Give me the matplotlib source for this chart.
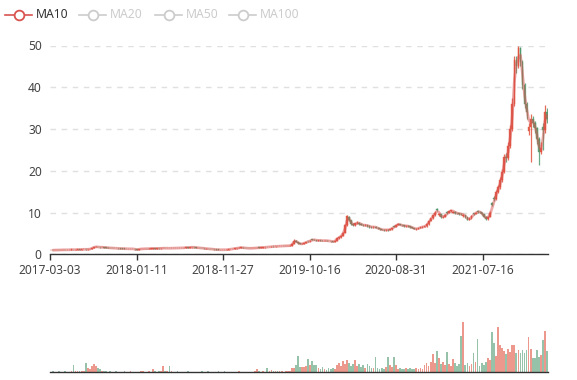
import numpy as np
import pandas as pd
import matplotlib
matplotlib.use('Agg')
import matplotlib.pyplot as plt
from matplotlib.lines import Line2D

plt.rcParams['font.family'] = ['Noto Sans', 'DejaVu Sans']
plt.rcParams['lines.scale_dashes'] = False

# ---------------- data (one candle ~ 5 trading days) ----------------
tick_labels = ['2017-03-03', '2018-01-11', '2018-11-27', '2019-10-16', '2020-08-31', '2021-07-16']
days_per_candle = 5
label_every_days = 212

open_ = [
    0.97, 1.01, 0.99, 1.02, 1.05, 1.03, 1.06, 1.08, 1.05, 1.08,
    1.10, 1.12, 1.08, 1.14, 1.16, 1.13, 1.18, 1.20, 1.15, 1.22,
    1.25, 1.55, 1.76, 1.80, 1.72, 1.66, 1.70, 1.62, 1.60, 1.55,
    1.52, 1.48, 1.45, 1.42, 1.40, 1.38, 1.36, 1.34, 1.30, 1.28,
    1.32, 1.30, 1.15, 1.12, 1.25, 1.30, 1.32, 1.35, 1.33, 1.36,
    1.38, 1.40, 1.38, 1.42, 1.40, 1.44, 1.48, 1.45, 1.46, 1.42,
    1.50, 1.48, 1.52, 1.50, 1.55, 1.52, 1.58, 1.62, 1.60, 1.66,
    1.70, 1.65, 1.53, 1.55, 1.50, 1.45, 1.33, 1.35, 1.30, 1.25,
    1.20, 1.15, 1.12, 1.10, 1.08, 1.10, 1.08, 1.12, 1.18, 1.25,
    1.32, 1.40, 1.48, 1.58, 1.62, 1.55, 1.50, 1.45, 1.42, 1.45,
    1.50, 1.52, 1.60, 1.58, 1.62, 1.65, 1.78, 1.75, 1.80, 1.90,
    1.88, 1.95, 1.92, 1.95, 2.02, 2.00, 2.02, 2.05, 2.10, 2.50,
    3.30, 3.00, 2.60, 2.45, 2.55, 2.75, 3.20, 3.10, 3.60, 3.50,
    3.45, 3.30, 3.35, 3.30, 3.25, 3.30, 3.25, 3.20, 3.10, 3.00,
    3.30, 3.80, 4.10, 4.50, 5.20, 6.90, 9.00, 8.10, 7.30, 6.90,
    7.40, 7.60, 7.30, 7.10, 6.90, 7.00, 6.80, 6.60, 6.50, 6.60,
    6.40, 6.20, 6.00, 5.90, 5.80, 5.90, 5.80, 6.00, 6.75, 6.60,
    7.00, 7.20, 7.00, 6.90, 6.75, 6.80, 6.70, 6.50, 6.30, 6.05,
    6.10, 6.30, 6.50, 6.60, 6.70, 7.20, 8.00, 8.60, 9.30, 10.9,
    9.30, 9.60, 8.90, 9.00, 10.1, 9.90, 10.3, 9.95, 10.2, 9.90,
    9.80, 9.70, 9.10, 9.40, 8.90, 8.30, 8.60, 9.90, 9.70, 10.4,
    10.2, 10.1, 9.60, 9.00, 8.50, 9.00, 12.3, 13.6, 13.2, 15.0,
    16.0, 17.8, 19.8, 23.4, 23.0, 26.0, 30.0, 36.0, 46.5, 45.0,
    49.4, 46.0, 40.5, 36.0, 29.5, 30.5, 32.5, 31.5, 30.2, 27.5,
    24.5, 30.5, 29.7, 34.0,
]
close = [
    1.00, 0.98, 1.02, 1.05, 1.03, 1.06, 1.08, 1.05, 1.09, 1.10,
    1.12, 1.08, 1.14, 1.16, 1.13, 1.18, 1.20, 1.15, 1.22, 1.25,
    1.55, 1.78, 1.80, 1.72, 1.68, 1.70, 1.62, 1.60, 1.55, 1.52,
    1.48, 1.45, 1.42, 1.40, 1.38, 1.36, 1.34, 1.30, 1.28, 1.32,
    1.30, 1.15, 1.12, 1.25, 1.30, 1.32, 1.35, 1.33, 1.36, 1.38,
    1.40, 1.38, 1.42, 1.40, 1.44, 1.48, 1.45, 1.46, 1.42, 1.50,
    1.48, 1.52, 1.50, 1.55, 1.52, 1.58, 1.62, 1.60, 1.66, 1.70,
    1.65, 1.60, 1.55, 1.50, 1.45, 1.40, 1.35, 1.30, 1.25, 1.20,
    1.15, 1.12, 1.10, 1.08, 1.10, 1.08, 1.12, 1.18, 1.25, 1.32,
    1.40, 1.48, 1.58, 1.62, 1.55, 1.50, 1.45, 1.42, 1.45, 1.50,
    1.52, 1.55, 1.58, 1.62, 1.65, 1.70, 1.75, 1.80, 1.85, 1.88,
    1.90, 1.92, 1.95, 1.98, 2.00, 2.02, 2.05, 2.10, 2.50, 3.30,
    3.00, 2.60, 2.45, 2.55, 2.75, 2.95, 3.10, 3.30, 3.50, 3.45,
    3.30, 3.35, 3.30, 3.25, 3.30, 3.25, 3.20, 3.10, 3.00, 3.30,
    3.80, 4.10, 4.50, 5.20, 6.90, 9.10, 8.10, 7.30, 6.90, 7.40,
    7.60, 7.30, 7.10, 6.90, 7.00, 6.80, 6.60, 6.50, 6.60, 6.40,
    6.20, 6.00, 5.90, 5.80, 5.90, 5.80, 6.00, 6.30, 6.60, 7.00,
    7.20, 7.00, 6.90, 6.80, 6.80, 6.70, 6.50, 6.30, 6.10, 6.10,
    6.30, 6.50, 6.60, 6.70, 7.20, 8.00, 8.60, 9.30, 10.0, 10.6,
    9.60, 8.90, 9.00, 9.40, 9.90, 10.3, 10.5, 10.2, 9.90, 9.80,
    9.70, 9.60, 9.40, 8.90, 8.30, 8.60, 9.10, 9.70, 10.0, 10.2,
    10.1, 9.60, 9.00, 8.50, 9.00, 10.0, 11.8, 13.2, 15.0, 16.0,
    17.8, 19.8, 23.4, 23.0, 26.0, 30.0, 36.0, 46.5, 45.0, 49.4,
    46.0, 40.5, 36.0, 34.0, 30.5, 32.5, 31.5, 30.2, 27.5, 24.5,
    25.5, 29.7, 34.0, 32.5,
]
high = [
    1.02, 1.03, 1.04, 1.07, 1.07, 1.08, 1.10, 1.10, 1.11, 1.12,
    1.15, 1.14, 1.16, 1.19, 1.18, 1.21, 1.23, 1.22, 1.25, 1.28,
    1.62, 1.85, 1.90, 1.84, 1.76, 1.75, 1.73, 1.66, 1.63, 1.58,
    1.55, 1.51, 1.48, 1.46, 1.44, 1.42, 1.40, 1.37, 1.34, 1.35,
    1.35, 1.32, 1.18, 1.28, 1.34, 1.35, 1.38, 1.38, 1.39, 1.41,
    1.43, 1.43, 1.45, 1.45, 1.47, 1.52, 1.50, 1.50, 1.49, 1.54,
    1.53, 1.55, 1.55, 1.58, 1.58, 1.61, 1.66, 1.66, 1.70, 1.76,
    1.74, 1.68, 1.60, 1.58, 1.53, 1.48, 1.42, 1.38, 1.33, 1.28,
    1.23, 1.18, 1.15, 1.13, 1.12, 1.13, 1.15, 1.21, 1.28, 1.36,
    1.44, 1.52, 1.63, 1.68, 1.65, 1.58, 1.54, 1.49, 1.49, 1.54,
    1.56, 1.58, 1.63, 1.65, 1.68, 1.74, 1.82, 1.83, 1.88, 1.93,
    1.93, 1.98, 1.98, 2.01, 2.05, 2.06, 2.09, 2.14, 2.60, 3.60,
    3.40, 3.05, 2.70, 2.62, 2.80, 3.00, 3.25, 3.38, 3.65, 3.58,
    3.50, 3.42, 3.40, 3.35, 3.36, 3.34, 3.30, 3.25, 3.15, 3.36,
    3.90, 4.20, 4.65, 5.40, 7.20, 9.40, 9.20, 8.30, 7.50, 7.60,
    7.90, 7.70, 7.40, 7.20, 7.20, 7.10, 6.90, 6.70, 6.80, 6.70,
    6.50, 6.30, 6.10, 6.00, 6.05, 6.00, 6.10, 6.40, 6.85, 7.10,
    7.40, 7.30, 7.10, 7.00, 6.95, 6.90, 6.80, 6.60, 6.40, 6.20,
    6.40, 6.60, 6.70, 6.80, 7.40, 8.20, 8.80, 9.50, 10.3, 11.0,
    9.80, 9.70, 9.20, 9.60, 10.3, 10.4, 10.7, 10.4, 10.3, 10.0,
    9.90, 9.80, 9.60, 9.50, 9.00, 8.80, 9.30, 10.0, 10.1, 10.6,
    10.4, 10.2, 9.70, 9.10, 9.20, 10.3, 12.6, 14.0, 15.4, 16.6,
    18.5, 20.5, 24.0, 24.2, 26.8, 31.0, 37.5, 47.5, 47.5, 49.8,
    49.6, 46.5, 41.0, 36.5, 31.5, 33.5, 33.2, 32.0, 30.5, 28.0,
    27.0, 31.5, 35.8, 35.0,
]
low = [
    0.95, 0.96, 0.97, 1.00, 1.01, 1.01, 1.04, 1.03, 1.03, 1.06,
    1.08, 1.05, 1.06, 1.12, 1.10, 1.11, 1.16, 1.12, 1.13, 1.20,
    1.23, 1.50, 1.70, 1.68, 1.62, 1.63, 1.58, 1.56, 1.52, 1.48,
    1.44, 1.42, 1.39, 1.37, 1.35, 1.33, 1.31, 1.27, 1.24, 1.25,
    1.27, 1.12, 1.08, 1.10, 1.22, 1.28, 1.30, 1.30, 1.31, 1.34,
    1.36, 1.35, 1.36, 1.37, 1.38, 1.42, 1.42, 1.42, 1.39, 1.40,
    1.45, 1.45, 1.47, 1.47, 1.49, 1.50, 1.55, 1.56, 1.57, 1.62,
    1.60, 1.56, 1.50, 1.46, 1.42, 1.36, 1.30, 1.26, 1.22, 1.16,
    1.12, 1.09, 1.07, 1.05, 1.05, 1.05, 1.06, 1.10, 1.16, 1.22,
    1.30, 1.37, 1.45, 1.54, 1.52, 1.47, 1.42, 1.39, 1.39, 1.42,
    1.47, 1.49, 1.55, 1.56, 1.59, 1.62, 1.72, 1.72, 1.77, 1.84,
    1.85, 1.88, 1.89, 1.92, 1.97, 1.97, 1.99, 2.02, 2.06, 2.45,
    2.90, 2.55, 2.40, 2.40, 2.50, 2.70, 3.05, 3.05, 3.42, 3.40,
    3.25, 3.25, 3.26, 3.20, 3.20, 3.20, 3.15, 3.05, 2.95, 2.96,
    3.25, 3.70, 4.00, 4.40, 5.10, 6.80, 7.90, 7.10, 6.70, 6.80,
    7.20, 7.10, 6.90, 6.70, 6.70, 6.60, 6.40, 6.30, 6.30, 6.20,
    6.10, 5.90, 5.70, 5.60, 5.65, 5.60, 5.70, 5.90, 6.50, 6.50,
    6.90, 6.90, 6.80, 6.60, 6.60, 6.60, 6.40, 6.20, 6.00, 5.90,
    6.00, 6.20, 6.40, 6.50, 6.60, 7.10, 7.90, 8.50, 9.20, 10.3,
    9.10, 8.70, 8.70, 8.90, 9.70, 9.80, 10.1, 9.80, 9.70, 9.60,
    9.50, 9.40, 9.00, 8.80, 8.10, 8.10, 8.50, 9.50, 9.60, 10.0,
    9.90, 9.50, 8.90, 8.30, 8.30, 8.90, 11.5, 12.8, 13.0, 14.6,
    15.6, 17.4, 19.5, 22.0, 22.6, 25.5, 29.5, 35.5, 43.5, 44.5,
    45.0, 39.5, 35.0, 32.5, 28.5, 22.2, 30.5, 29.0, 26.5, 21.3,
    24.0, 25.0, 29.0, 31.5,
]
volume = [
    1, 2, 1, 1, 2, 1, 1, 2, 1, 1,
    2, 15, 2, 2, 2, 3, 3, 19, 8, 6,
    12, 16, 12, 8, 7, 3, 2, 2, 1, 2,
    1, 1, 2, 1, 1, 1, 2, 1, 1, 2,
    1, 1, 1, 1, 3, 2, 1, 1, 2, 1,
    6, 2, 1, 2, 2, 13, 3, 3, 13, 2,
    1, 1, 2, 1, 1, 1, 1, 2, 1, 1,
    1, 1, 1, 1, 2, 1, 1, 2, 1, 1,
    1, 1, 2, 1, 1, 2, 1, 1, 1, 1,
    1, 1, 2, 1, 1, 1, 1, 1, 1, 1,
    2, 7, 2, 1, 2, 1, 9, 3, 5, 2,
    2, 2, 2, 2, 1, 2, 2, 3, 9, 9,
    15, 33, 11, 11, 10, 12, 27, 15, 23, 15,
    15, 9, 6, 10, 7, 5, 8, 6, 9, 7,
    14, 18, 12, 22, 17, 24, 19, 13, 16, 25,
    13, 17, 10, 14, 9, 16, 12, 9, 8, 30,
    8, 6, 9, 7, 10, 31, 15, 11, 30, 14,
    7, 8, 6, 7, 9, 6, 8, 7, 6, 8,
    7, 9, 6, 14, 18, 12, 20, 36, 18, 43,
    28, 16, 21, 14, 40, 17, 12, 27, 19, 13,
    16, 72, 100, 14, 19, 12, 17, 38, 21, 67,
    13, 18, 15, 20, 28, 24, 81, 58, 32, 90,
    55, 48, 42, 36, 47, 40, 55, 54, 38, 44,
    38, 45, 38, 45, 70, 47, 28, 28, 45, 30,
    35, 65, 82, 42,
]
ma_names = ['MA10', 'MA20', 'MA50', 'MA100']
ma_days = [10, 20, 50, 100]
ma_shown = [True, False, False, False]

# ---------------- styling ----------------
RED = '#e2533f'
GREEN = '#4f9a6e'
MA_COLOR = '#d9534f'
AXIS_C = '#333333'
LABEL_C = '#444444'
GRID_C = '#e0e0e0'

W, H = 577, 380
fig = plt.figure(figsize=(W / 100, H / 100), dpi=100)


def px_axes(x0, y0, x1, y1):
    return fig.add_axes([x0 / W, 1 - y1 / H, (x1 - x0) / W, (y1 - y0) / H])


ax = px_axes(50, 45.5, 548, 254.3)
axv = px_axes(50, 300, 548, 372.3)

o = np.array(open_)
c = np.array(close)
h = np.array(high)
lo = np.array(low)
v = np.array(volume)
n = len(c)
x = np.arange(n)
up = c >= o
cols = np.where(up, RED, GREEN)

# candles
ax.vlines(x, lo, h, colors=cols, lw=0.9, alpha=0.85, zorder=3)
body_bottom = np.minimum(o, c)
body_h = np.maximum(np.abs(c - o), 0.05)
ax.bar(x, body_h, bottom=body_bottom, width=0.8, color=cols, edgecolor=cols,
       linewidth=0.3, alpha=0.9, zorder=3)

# moving average (shown series only)
for name, days, shown in zip(ma_names, ma_days, ma_shown):
    if shown:
        win = max(1, int(round(days / days_per_candle)))
        ma = pd.Series(c).rolling(win).mean()
        ax.plot(x, ma, color=MA_COLOR, lw=2.0, alpha=0.5, zorder=4,
                solid_capstyle='round', solid_joinstyle='round')

ax.set_xlim(-0.5, n - 0.5)
ax.set_ylim(0, 50)
ax.set_yticks([0, 10, 20, 30, 40, 50])
ax.grid(axis='y', color=GRID_C, lw=1.0, linestyle=(0, (4, 4)), zorder=0)
ax.set_axisbelow(True)
for s in ['top', 'right', 'left']:
    ax.spines[s].set_visible(False)
ax.spines['bottom'].set_color(AXIS_C)
ax.spines['bottom'].set_linewidth(1.0)

step = label_every_days / days_per_candle
tick_pos = [-0.5 + k * step for k in range(len(tick_labels))]
ax.set_xticks(tick_pos)
ax.set_xticklabels(tick_labels)
ax.tick_params(axis='x', length=4, width=1, color=AXIS_C, labelcolor=LABEL_C,
               labelsize=8.6, pad=3)
ax.tick_params(axis='y', length=0, labelcolor=LABEL_C, labelsize=8.6, pad=6)

# volume
axv.bar(x, v, width=0.85, color=cols, alpha=0.6, linewidth=0)
axv.set_xlim(-0.5, n - 0.5)
axv.set_ylim(0, 145)
for s in ['top', 'right', 'left']:
    axv.spines[s].set_visible(False)
axv.spines['bottom'].set_color(AXIS_C)
axv.spines['bottom'].set_linewidth(1.0)
axv.set_xticks([])
axv.set_yticks([])

# legend (top-left)
leg_x = [5, 79, 155, 229]
for name, lx, shown in zip(ma_names, leg_x, ma_shown):
    colr = MA_COLOR if shown else '#cccccc'
    yy = 1 - 15 / H
    fig.add_artist(Line2D([lx / W, (lx + 27) / W], [yy, yy], color=colr, lw=1.2,
                          transform=fig.transFigure))
    fig.add_artist(Line2D([(lx + 13.5) / W], [yy], marker='o', markersize=7.0,
                          markerfacecolor='white', markeredgecolor=colr, mew=1.3,
                          transform=fig.transFigure))
    fig.text((lx + 31) / W, yy, name, color=('#333333' if shown else '#cccccc'),
             fontsize=8.8, va='center', ha='left')

fig.savefig('out.png', dpi=100)
